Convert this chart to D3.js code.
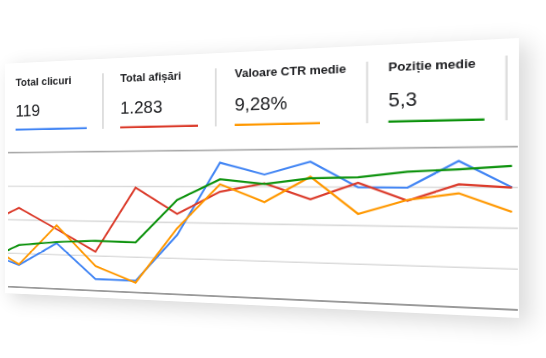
<!DOCTYPE html>
<html>
<head>
<meta charset="utf-8">
<script src="https://cdn.jsdelivr.net/npm/d3@7"></script>
<style>
  html, body { margin: 0; padding: 0; background: #ffffff; width: 546px; height: 358px; overflow: hidden; }
  #card { position: absolute; left: 0; top: 0; background: #ffffff; transform-origin: 0 0;
          box-shadow: 8px 6px 22px rgba(0,0,0,0.16); }
  svg { display: block; font-family: "Liberation Sans", Arial, Helvetica, sans-serif; }
</style>
</head>
<body>
<div id="card"></div>
<script>
// ---- data ----
const metricTitles = ["Total clicuri", "Total afișări", "Valoare CTR medie", "Poziție medie"];
const metricValues = ["119", "1.283", "9,28%", "5,3"];
const seriesColors = ["#4285f4", "#db3b2b", "#ff9800", "#0c920c"];
const dayIndex = [-1, 0, 1, 2, 3, 4, 5, 6, 7, 8, 9, 10, 11];
const clicks      = [26, 16.5, 33.4, 8.4, 8.3, 41.3, 91.5, 83.3, 91.7, 74.9, 74.7, 91.5, 75.1];
const impressions = [45, 59.0, 43.7, 28.0, 74.2, 56.0, 71.6, 77.4, 66.9, 77.8, 66.4, 76.9, 74.9];
const ctr         = [33, 17.0, 46.5, 17.8, 6.9, 46.0, 76.7, 64.8, 81.8, 57.6, 66.9, 71.3, 60.0];
const position    = [18, 31.3, 34.3, 35.9, 35.5, 65.7, 80.1, 76.9, 80.8, 81.4, 84.9, 86.3, 88.2];
const gridTicks = [0, 25, 50, 75, 100];

// ---- flat card ----
const W = 560, H = 280;
const card = d3.select("#card").style("width", W + "px").style("height", H + "px");
const svg = card.append("svg").attr("width", W).attr("height", H);

// header metrics
const titleFont = 13, valueFont = 20, pad = 21, minBox = 132;
let bx = -7;
metricTitles.forEach((t, i) => {
  const g = svg.append("g");
  const title = g.append("text").attr("x", bx + pad).attr("y", 28)
    .attr("font-size", titleFont).attr("font-weight", "bold").attr("fill", "#202124").text(t);
  const tw = title.node().getComputedTextLength();
  g.append("text").attr("x", bx + pad).attr("y", 65.5)
    .attr("font-size", valueFont).attr("fill", "#202124").text(metricValues[i]);
  g.append("rect").attr("x", bx + pad).attr("y", 79.6).attr("width", 91).attr("height", 2.4)
    .attr("fill", seriesColors[i]);
  const bw = Math.max(minBox, tw + 2 * pad);
  bx += bw;
  svg.append("rect").attr("x", bx - 1).attr("y", 17).attr("width", 2).attr("height", 65)
    .attr("fill", "#dcdcdc");
});

// chart
const x = d3.scaleLinear().domain([0, 11]).range([18.5, 553.7]);
const y = d3.scaleLinear().domain([0, 100]).range([272, 108.7]);
const left = 4, right = 559;

svg.append("defs").append("clipPath").attr("id", "clip")
  .append("rect").attr("x", left).attr("y", 0).attr("width", right - left).attr("height", H);

svg.append("g").selectAll("line").data(gridTicks).join("line")
  .attr("x1", left).attr("x2", right)
  .attr("y1", d => y(d)).attr("y2", d => y(d))
  .attr("stroke", d => d === 0 ? "#9a9a9a" : (d === 100 ? "#a8a8a8" : "#dadada"))
  .attr("stroke-width", d => (d === 0 || d === 100) ? 1.8 : 1.6);

const line = d3.line().x((d, i) => x(dayIndex[i])).y(d => y(d));
const allSeries = [clicks, impressions, ctr, position];
svg.append("g").attr("clip-path", "url(#clip)").selectAll("path").data(allSeries).join("path")
  .attr("d", d => line(d))
  .attr("fill", "none")
  .attr("stroke", (d, i) => seriesColors[i])
  .attr("stroke-width", 2.2)
  .attr("stroke-linejoin", "miter");

// ---- perspective placement of the card ----
const quad = [[5, 63.7], [519, 38], [519, 318], [5, 293.1]];
function homography(P, w, h) {
  const [x0, y0] = P[0], [x1, y1] = P[1], [x2, y2] = P[2], [x3, y3] = P[3];
  const dx1 = x1 - x2, dx2 = x3 - x2, dx3 = x0 - x1 + x2 - x3;
  const dy1 = y1 - y2, dy2 = y3 - y2, dy3 = y0 - y1 + y2 - y3;
  const den = dx1 * dy2 - dx2 * dy1;
  const g = (dx3 * dy2 - dx2 * dy3) / den;
  const hh = (dx1 * dy3 - dx3 * dy1) / den;
  const a = x1 - x0 + g * x1, b = x3 - x0 + hh * x3, c = x0;
  const d = y1 - y0 + g * y1, e = y3 - y0 + hh * y3, f = y0;
  return [a / w, d / w, 0, g / w, b / h, e / h, 0, hh / h, 0, 0, 1, 0, c, f, 0, 1];
}
card.style("transform", "matrix3d(" + homography(quad, W, H).join(",") + ")");
</script>
</body>
</html>
